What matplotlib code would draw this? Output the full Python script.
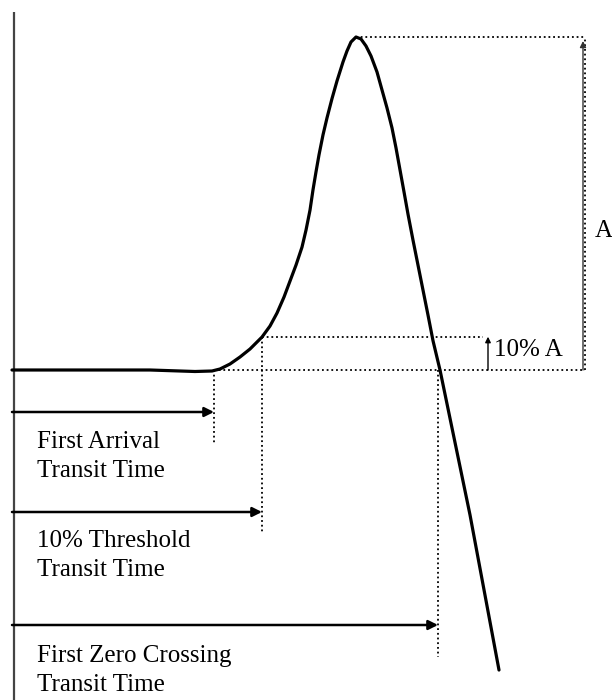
import matplotlib
matplotlib.use("Agg")
import matplotlib.pyplot as plt

# waveform: time (horizontal, px-like units) and normalised amplitude (peak = A = 1)
wave_t = [12, 150, 195, 212, 220, 230, 240, 250, 262, 270, 277, 284, 290, 296,
          302, 306, 310, 313, 316, 319, 323, 327, 332, 337, 343, 347, 351, 356,
          361, 366, 371, 377, 382, 387, 392, 396, 400, 404, 408, 413, 418, 423,
          428, 433, 440, 470, 499]
wave_amp = [0.0, 0.0, -0.0045, -0.003, 0.003, 0.018, 0.039, 0.063, 0.099, 0.132,
            0.171, 0.219, 0.267, 0.315, 0.369, 0.420, 0.480, 0.541, 0.595, 0.646,
            0.706, 0.757, 0.815, 0.868, 0.925, 0.958, 0.985, 1.0,
            0.994, 0.973, 0.943, 0.895, 0.841, 0.787, 0.727, 0.667, 0.601, 0.535,
            0.468, 0.390, 0.315, 0.240, 0.165, 0.088, 0.0, -0.435, -0.901]

# transit time picks on the time axis
pick_labels = ["First Arrival\nTransit Time",
               "10% Threshold\nTransit Time",
               "First Zero Crossing\nTransit Time"]
pick_times = [214, 262, 438]
pick_amp = [0.0, 0.1, 0.0]

threshold = 0.1
peak_t = 356


def px(y):
    # layout helper: figure pixel row -> amplitude units
    return (370 - y) / 333.0


fig = plt.figure(figsize=(6.12, 7.0), dpi=100)
ax = fig.add_axes([0, 0, 1, 1])
ax.set_xlim(0, 612)
ax.set_ylim(px(700), px(0))
ax.axis("off")

serif = ["Liberation Serif", "DejaVu Serif"]
fs = 18
dot = (0, (1.0, 1.6))
dlw = 1.3

# left axis line
ax.plot([14, 14], [px(12), px(700)], color="#444444", lw=1.6,
        solid_capstyle="butt")

# waveform
ax.plot(wave_t, wave_amp, color="black", lw=2.3, solid_joinstyle="round",
        solid_capstyle="round", zorder=5)

# dotted reference lines
ax.plot([peak_t, 585], [1.0, 1.0], color="black", lw=dlw, ls=dot)
ax.plot([585, 585], [0.0, 1.0], color="black", lw=dlw, ls=dot)
ax.plot([pick_times[0], 585], [0.0, 0.0], color="black", lw=dlw, ls=dot)
ax.plot([pick_times[1], 483], [threshold, threshold], color="black", lw=dlw, ls=dot)

drop_ends = [445, 532, 657]
arrow_rows = [412, 512, 625]
text_rows = [448, 547, 662]
for t, a0, yend, yar, ytx, lab in zip(pick_times, pick_amp, drop_ends,
                                      arrow_rows, text_rows, pick_labels):
    ax.plot([t, t], [a0, px(yend)], color="black", lw=dlw, ls=dot)
    ax.annotate("", xy=(t, px(yar)), xytext=(12, px(yar)),
                arrowprops=dict(arrowstyle="-|>", color="black", lw=1.8,
                                mutation_scale=14, shrinkA=0, shrinkB=0))
    l1, l2 = lab.split("\n")
    ax.text(37, px(ytx), l1, fontsize=fs, family=serif, va="baseline", ha="left")
    ax.text(37, px(ytx + 29), l2, fontsize=fs, family=serif, va="baseline", ha="left")

# amplitude A arrow
ax.annotate("", xy=(583, px(41)), xytext=(583, 0.0),
            arrowprops=dict(arrowstyle="-|>", color="#333333", lw=1.0,
                            mutation_scale=9, shrinkA=0, shrinkB=0))
ax.text(595, px(237), "A", fontsize=fs, family=serif, va="baseline", ha="left")

# 10% A arrow
ax.annotate("", xy=(488, threshold), xytext=(488, 0.0),
            arrowprops=dict(arrowstyle="-|>", color="black", lw=1.0,
                            mutation_scale=8, shrinkA=0, shrinkB=0))
ax.text(494, px(356), "10% A", fontsize=fs, family=serif, va="baseline", ha="left")

fig.savefig("out.png", dpi=100, facecolor="white")
